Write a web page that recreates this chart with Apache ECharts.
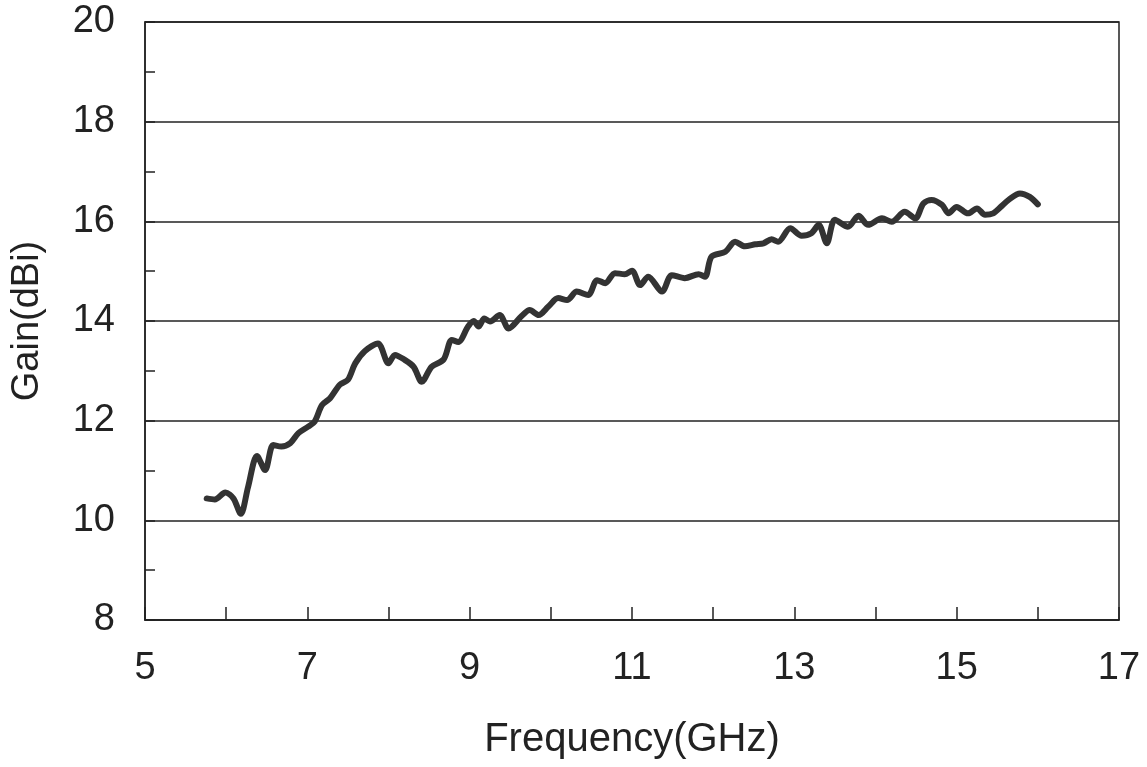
<!DOCTYPE html>
<html>
<head>
<meta charset="utf-8">
<title>Gain vs Frequency</title>
<script src="https://cdn.jsdelivr.net/npm/echarts@6/dist/echarts.min.js"></script>
<style>
  html, body { margin: 0; padding: 0; background: #fff; }
  #main { width: 1147px; height: 767px; }
</style>
</head>
<body>
<div id="main"></div>
<script>
// values
var freq = [5.76, 5.86, 5.99, 6.09, 6.18, 6.27, 6.38, 6.48, 6.58, 6.68, 6.79, 6.89, 7.01, 7.09, 7.18, 7.28, 7.40, 7.50,
    7.59, 7.71, 7.87, 8.00, 8.08, 8.20, 8.31, 8.41, 8.53, 8.68, 8.78, 8.86, 8.98, 9.05, 9.11, 9.18, 9.25, 9.37, 9.48, 9.64,
    9.74, 9.85, 9.97, 10.09, 10.20, 10.32, 10.46, 10.57, 10.67, 10.79, 10.91, 11.00, 11.10, 11.20, 11.37, 11.49,
    11.65, 11.82, 11.90, 11.98, 12.15, 12.27, 12.39, 12.52, 12.62, 12.72, 12.80, 12.95, 13.09, 13.21, 13.30, 13.40,
    13.50, 13.66, 13.79, 13.91, 14.08, 14.20, 14.36, 14.49, 14.59, 14.69, 14.82, 14.90, 15.00, 15.14, 15.25, 15.35,
    15.45, 15.55, 15.64, 15.78, 15.90, 16.00];
var gain = [10.44, 10.42, 10.56, 10.44, 10.13, 10.67, 11.29, 11.01, 11.51, 11.48, 11.55, 11.75, 11.88, 11.98, 12.31, 12.45, 12.72, 12.82,
    13.15, 13.40, 13.55, 13.15, 13.32, 13.22, 13.08, 12.78, 13.08, 13.23, 13.62, 13.58, 13.89, 14.00, 13.89, 14.05, 13.99, 14.12, 13.85, 14.10,
    14.22, 14.12, 14.29, 14.46, 14.42, 14.59, 14.52, 14.82, 14.76, 14.96, 14.94, 15.01, 14.72, 14.89, 14.59, 14.92,
    14.86, 14.94, 14.89, 15.29, 15.39, 15.59, 15.50, 15.54, 15.56, 15.64, 15.59, 15.86, 15.71, 15.76, 15.93, 15.56,
    16.03, 15.89, 16.11, 15.93, 16.06, 15.99, 16.19, 16.06, 16.36, 16.43, 16.33, 16.16, 16.29, 16.16, 16.26, 16.13,
    16.16, 16.30, 16.43, 16.56, 16.49, 16.34];
var xTicks = [5, 7, 9, 11, 13, 15, 17];
var yTicks = [8, 10, 12, 14, 16, 18, 20];

var points = [];
for (var i = 0; i < freq.length; i++) {
    points.push([freq[i], gain[i]]);
}

var myChart = echarts.init(document.getElementById('main'));
var option = {
    backgroundColor: '#fff',
    animation: false,
    grid: {
        left: 145,
        right: 28,
        top: 22,
        bottom: 147,
        show: true,
        borderColor: '#222',
        borderWidth: 1.5
    },
    xAxis: {
        type: 'value',
        min: xTicks[0],
        max: xTicks[xTicks.length - 1],
        interval: 2,
        name: 'Frequency(GHz)',
        nameLocation: 'middle',
        nameGap: 100,
        nameTextStyle: { fontFamily: 'Liberation Sans', fontSize: 40, color: '#222' },
        axisLine: { lineStyle: { color: '#222', width: 1.5 } },
        axisTick: { show: true, inside: true, length: 13, lineStyle: { color: '#222', width: 1.5 } },
        minorTick: { show: true, splitNumber: 2, length: 13, lineStyle: { color: '#222', width: 1.5 } },
        splitLine: { show: false },
        axisLabel: { margin: 30, fontFamily: 'Liberation Sans', fontSize: 38, color: '#222' }
    },
    yAxis: {
        type: 'value',
        min: yTicks[0],
        max: yTicks[yTicks.length - 1],
        interval: 2,
        name: 'Gain(dBi)',
        nameLocation: 'middle',
        nameGap: 98,
        nameTextStyle: { fontFamily: 'Liberation Sans', fontSize: 38, color: '#222' },
        axisLine: { show: true, lineStyle: { color: '#222', width: 1.5 } },
        axisTick: { show: true, inside: true, length: 10, lineStyle: { color: '#222', width: 1.5 } },
        minorTick: { show: true, splitNumber: 2, length: 10, lineStyle: { color: '#222', width: 1.5 } },
        splitLine: { show: true, lineStyle: { color: '#222', width: 1.5 } },
        axisLabel: { margin: 30, fontFamily: 'Liberation Sans', fontSize: 38, color: '#222' }
    },
    series: [{
        type: 'line',
        data: points,
        showSymbol: false,
        smooth: 0.3,
        lineStyle: { color: '#333', width: 6, cap: 'round', join: 'round' }
    }]
};
myChart.setOption(option);
</script>
</body>
</html>
